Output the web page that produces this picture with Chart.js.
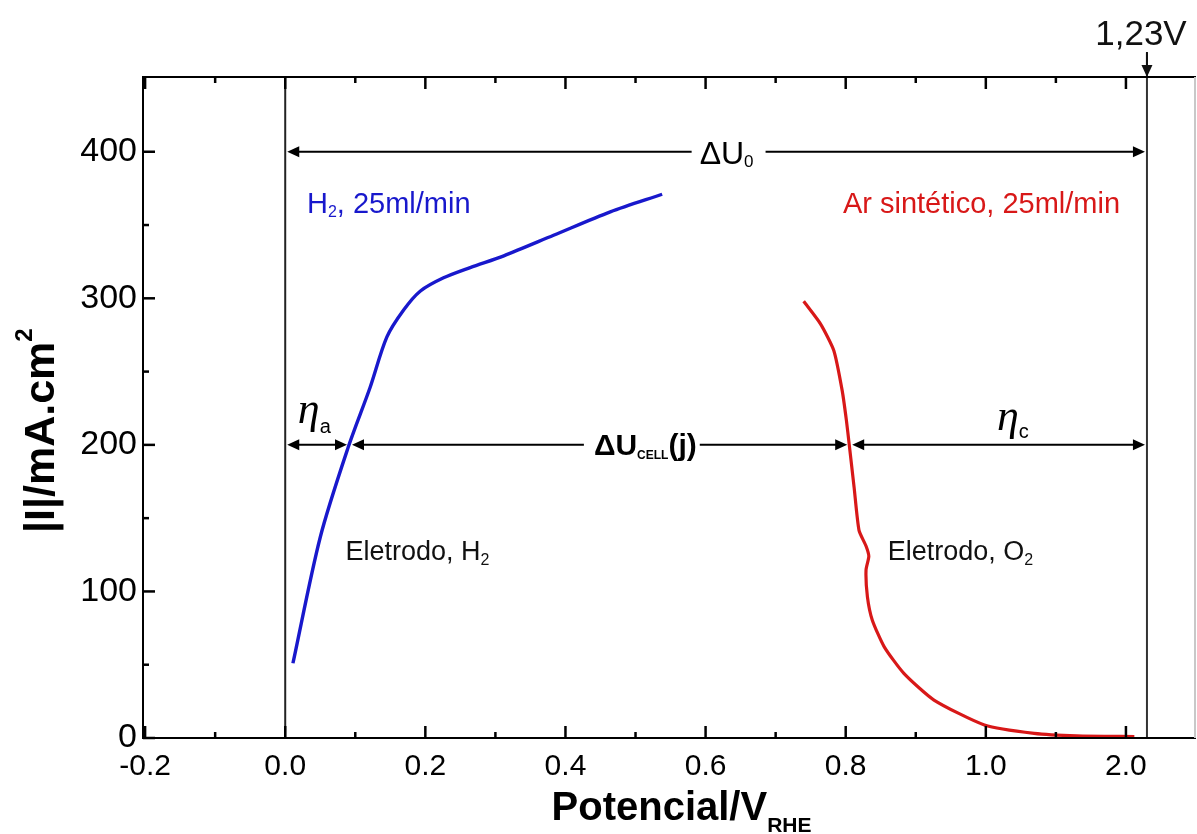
<!DOCTYPE html>
<html>
<head>
<meta charset="utf-8">
<script src="https://cdn.jsdelivr.net/npm/chart.js@4.4.1/dist/chart.umd.min.js"></script>
<style>
  html, body { margin: 0; padding: 0; background: #fff; }
  #wrap { width: 1197px; height: 834px; }
</style>
</head>
<body>
<div id="wrap"><canvas id="polar" width="1197" height="834"></canvas></div>
<script>
// --- axis ticks ---
const xTickValues = [-0.2, 0.0, 0.2, 0.4, 0.6, 0.8, 1.0, 1.2];
const xTickLabels = ['-0.2', '0.0', '0.2', '0.4', '0.6', '0.8', '1.0', '2.0'];
const xMinorValues = [-0.1, 0.1, 0.3, 0.5, 0.7, 0.9, 1.1];
const yTickValues = [0, 100, 200, 300, 400];
const yTickLabels = ['0', '100', '200', '300', '400'];
const yMinorValues = [50, 150, 250, 350];

// --- H2 electrode (blue) ---
const h2Potential = [0.011, 0.050, 0.090, 0.121, 0.145, 0.169, 0.193, 0.226, 0.264, 0.312, 0.383, 0.464, 0.538];
const h2Current   = [51, 137, 198.5, 239, 273.5, 292, 305, 314, 321, 329, 343, 359, 371];

// --- O2 electrode (red) ---
const o2Potential = [0.740, 0.764, 0.783, 0.795, 0.801, 0.805, 0.812, 0.819, 0.829, 0.833, 0.829, 0.831, 0.838, 0.855, 0.883, 0.926, 0.998, 1.069, 1.130, 1.212];
const o2Current   = [298, 282.6, 264.4, 237, 216.7, 200.3, 171, 141.7, 131, 124, 114.5, 96.3, 80.4, 62.2, 44.1, 25.9, 8.9, 3.2, 1.5, 1];

// --- annotation anchors (data units) ---
const refPotential = 1.23;      // 1,23V line
const deltaU0Level = 400;
const cellLevel = 200;
const anodeCross = 0.091;       // blue curve at 200
const cathodeCross = 0.805;     // red curve at 200

const FONT = "'Liberation Sans', Arial, Helvetica, sans-serif";
const SERIF = "'Liberation Serif', 'Times New Roman', serif";
const BLUE = '#1818cc';
const RED = '#d81818';

Chart.defaults.font.family = FONT;
Chart.defaults.color = '#000';

const toPoints = (xs, ys) => xs.map((v, i) => ({ x: v, y: ys[i] }));

function seg(ctx, x1, y1, x2, y2) {
  ctx.beginPath(); ctx.moveTo(x1, y1); ctx.lineTo(x2, y2); ctx.stroke();
}

// filled arrow head, tip at (tx,ty), pointing along (dx,dy)
function head(ctx, tx, ty, dx, dy) {
  const L = 12, W = 5.5;
  ctx.beginPath();
  ctx.moveTo(tx, ty);
  ctx.lineTo(tx - dx * L - dy * W, ty - dy * L + dx * W);
  ctx.lineTo(tx - dx * L + dy * W, ty - dy * L - dx * W);
  ctx.closePath();
  ctx.fill();
}

// horizontal double arrow, optional gap for a label
function span(ctx, x1, x2, y, gap) {
  if (gap) {
    seg(ctx, x1 + 6, y, gap[0], y);
    seg(ctx, gap[1], y, x2 - 6, y);
  } else {
    seg(ctx, x1 + 6, y, x2 - 6, y);
  }
  head(ctx, x1, y, -1, 0);
  head(ctx, x2, y, 1, 0);
}

// text made of runs: [text, font, dy]
function rich(ctx, runs, x, y, align) {
  let w = 0;
  runs.forEach(r => { ctx.font = r[1]; w += ctx.measureText(r[0]).width; });
  let cx = align === 'center' ? x - w / 2 : x;
  runs.forEach(r => {
    ctx.font = r[1];
    ctx.fillText(r[0], cx, y + (r[2] || 0));
    cx += ctx.measureText(r[0]).width;
  });
  return w;
}

const annotate = {
  id: 'annotate',
  beforeDatasetsDraw(chart) {
    const { ctx, chartArea: a, scales: { x } } = chart;
    ctx.save();
    ctx.lineWidth = 2;
    ctx.strokeStyle = '#222';
    const x0 = x.getPixelForValue(0);
    seg(ctx, x0, a.top, x0, a.bottom);
    const xr = x.getPixelForValue(refPotential);
    ctx.strokeStyle = '#333';
    seg(ctx, xr, a.top - 24, xr, a.bottom);
    ctx.restore();
  },
  afterDraw(chart) {
    const { ctx, chartArea: a, scales: { x, y } } = chart;
    ctx.save();

    // frame
    ctx.strokeStyle = '#000';
    ctx.lineWidth = 2;
    seg(ctx, a.left, a.top, a.left, a.bottom + 1);
    seg(ctx, a.left - 1, a.bottom, a.right, a.bottom);
    seg(ctx, a.left - 1, a.top, a.right, a.top);
    ctx.strokeStyle = '#c8c8c8';
    seg(ctx, a.right - 1, a.top, a.right - 1, a.bottom);

    // inward ticks
    ctx.strokeStyle = '#000';
    ctx.lineWidth = 2.5;
    xTickValues.forEach(v => {
      const px = x.getPixelForValue(v);
      seg(ctx, px, a.bottom, px, a.bottom - 12);
      seg(ctx, px, a.top, px, a.top + 12);
    });
    xMinorValues.forEach(v => {
      const px = x.getPixelForValue(v);
      seg(ctx, px, a.bottom, px, a.bottom - 6);
      seg(ctx, px, a.top, px, a.top + 6);
    });
    yTickValues.forEach(v => {
      const py = y.getPixelForValue(v);
      seg(ctx, a.left, py, a.left + 12, py);
    });
    yMinorValues.forEach(v => {
      const py = y.getPixelForValue(v);
      seg(ctx, a.left, py, a.left + 6, py);
    });

    // arrows
    ctx.fillStyle = '#000';
    ctx.strokeStyle = '#000';
    ctx.lineWidth = 2;
    const x0 = x.getPixelForValue(0) + 2;
    const xr = x.getPixelForValue(refPotential) - 2;
    const xa = x.getPixelForValue(anodeCross);
    const xc = x.getPixelForValue(cathodeCross);
    const yTop = y.getPixelForValue(deltaU0Level);
    const yCell = y.getPixelForValue(cellLevel);

    ctx.textBaseline = 'alphabetic';
    // ΔU0
    const u0x = x.getPixelForValue(0.63);
    const u0w = rich(ctx, [['ΔU', '32px ' + FONT], ['0', '17px ' + FONT, 3]], u0x, yTop + 12, 'center');
    span(ctx, x0, xr, yTop, [u0x - u0w / 2 - 8, u0x + u0w / 2 + 12]);

    // η_a
    span(ctx, x0, xa - 2, yCell);
    // ΔU_CELL(j)
    const ucx = x.getPixelForValue(0.514);
    const ucw = rich(ctx, [['ΔU', 'bold 30px ' + FONT], ['CELL', 'bold 12px ' + FONT, 4], ['(j)', 'bold 30px ' + FONT]], ucx, yCell + 10, 'center');
    span(ctx, xa + 3, xc - 2, yCell, [ucx - ucw / 2 - 10, ucx + ucw / 2 + 3]);
    // η_c
    span(ctx, xc + 3, xr, yCell);

    rich(ctx, [['η', 'italic 44px ' + SERIF], ['a', '20px ' + FONT, 10]], x.getPixelForValue(0.018), yCell - 22, 'left');
    rich(ctx, [['η', 'italic 44px ' + SERIF], ['c', '20px ' + FONT, 8]], x.getPixelForValue(1.016), yCell - 15, 'left');

    // 1,23V label and arrow
    const xl = x.getPixelForValue(refPotential);
    ctx.textAlign = 'center';
    ctx.font = '35px ' + FONT;
    ctx.fillStyle = '#111';
    ctx.fillText('1,23V', xl - 6, 45);
    ctx.strokeStyle = '#111';
    seg(ctx, xl, 52, xl, a.top - 8);
    head(ctx, xl, a.top, 0, 1);

    // series labels
    ctx.textAlign = 'left';
    const labY = y.getPixelForValue(358.4);
    ctx.fillStyle = BLUE;
    rich(ctx, [['H', '29px ' + FONT], ['2', '16px ' + FONT, 4], [', 25ml/min', '29px ' + FONT]], x.getPixelForValue(0.031), labY, 'left');
    ctx.fillStyle = RED;
    rich(ctx, [['Ar sintético, 25ml/min', '29px ' + FONT]], x.getPixelForValue(0.796), labY, 'left');

    ctx.fillStyle = '#111';
    const elY = y.getPixelForValue(121.3);
    rich(ctx, [['Eletrodo, H', '27px ' + FONT], ['2', '16px ' + FONT, 5]], x.getPixelForValue(0.086), elY, 'left');
    rich(ctx, [['Eletrodo, O', '27px ' + FONT], ['2', '16px ' + FONT, 5]], x.getPixelForValue(0.86), elY, 'left');

    // axis titles
    ctx.fillStyle = '#000';
    const tx = (a.left + a.right) / 2 + 12;
    rich(ctx, [['Potencial/V', 'bold 40px ' + FONT], ['RHE', 'bold 21px ' + FONT, 12]], tx, 820, 'center');

    ctx.save();
    ctx.translate(54, 533);
    ctx.rotate(-Math.PI / 2);
    rich(ctx, [['|I|/mA.cm', 'bold 43px ' + FONT], ['2', 'bold 24px ' + FONT, -22]], 0, 0, 'left');
    ctx.restore();

    ctx.restore();
  }
};

new Chart(document.getElementById('polar'), {
  type: 'line',
  data: {
    datasets: [
      { label: 'H2', data: toPoints(h2Potential, h2Current), borderColor: BLUE, borderWidth: 3.4, pointRadius: 0, tension: 0.3, fill: false },
      { label: 'O2', data: toPoints(o2Potential, o2Current), borderColor: RED, borderWidth: 3.2, pointRadius: 0, tension: 0.2, fill: false }
    ]
  },
  options: {
    responsive: false,
    animation: false,
    devicePixelRatio: 1,
    layout: { padding: { top: 77, right: 1, left: 0, bottom: 0 } },
    plugins: { legend: { display: false }, tooltip: { enabled: false } },
    scales: {
      x: {
        type: 'linear', min: -0.203, max: 1.30,
        afterBuildTicks: s => { s.ticks = xTickValues.map(v => ({ value: v })); },
        afterFit: s => { s.height = 96; },
        grid: { display: false, drawTicks: false },
        border: { display: false },
        ticks: { autoSkip: false, maxRotation: 0, padding: 11, font: { size: 30 }, color: '#000',
                 callback: (v, i) => xTickLabels[i] }
      },
      y: {
        type: 'linear', min: 0, max: 451,
        afterBuildTicks: s => { s.ticks = yTickValues.map(v => ({ value: v })); },
        afterFit: s => { s.width = 143; },
        grid: { display: false, drawTicks: false },
        border: { display: false },
        ticks: { padding: 6, font: { size: 34 }, color: '#000',
                 callback: (v, i) => yTickLabels[i] }
      }
    }
  },
  plugins: [annotate]
});
</script>
</body>
</html>
